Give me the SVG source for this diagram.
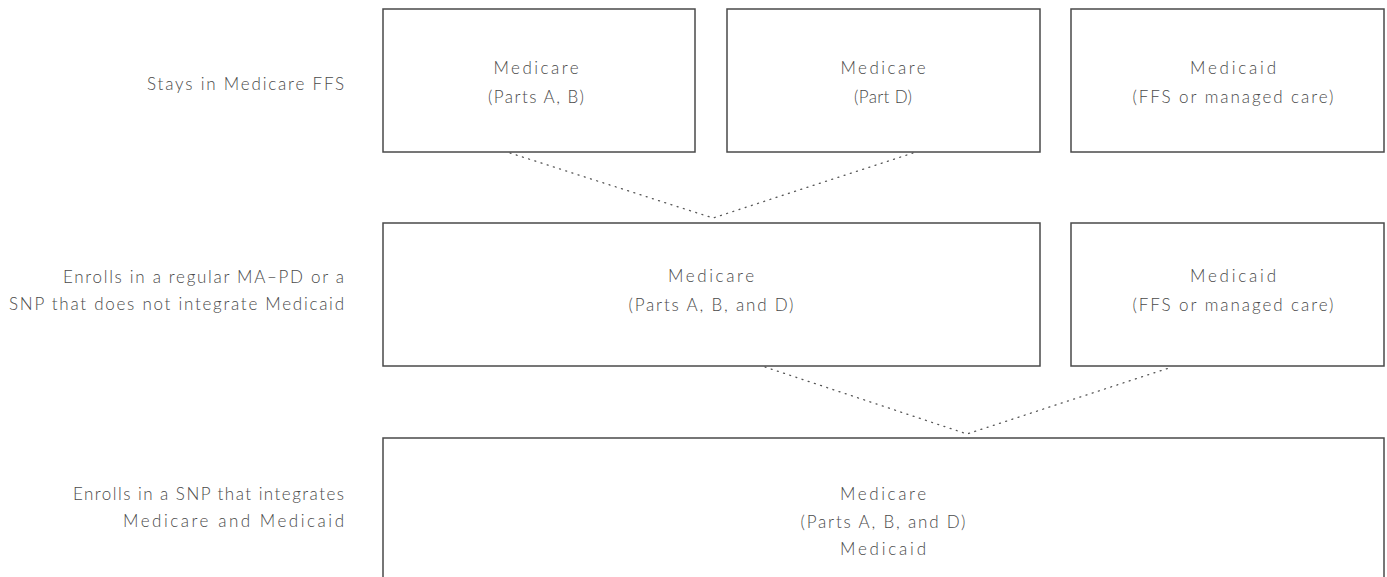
<svg xmlns="http://www.w3.org/2000/svg" width="1387" height="577" viewBox="0 0 1387 577">
<style>
.box{fill:#fff;stroke:#4a4a4a;stroke-width:1.5}
.t{font-family:Lato,"Open Sans","Liberation Sans",sans-serif;font-weight:300;font-size:17px;fill:#4a4a4a}
.m{text-anchor:middle}
.r{text-anchor:end}
.c{fill:none;stroke:#555;stroke-width:1.3;stroke-dasharray:1 5.5;stroke-linecap:round}
</style>
<rect width="1387" height="577" fill="#fff"/>
<g id="labels">
<text class="t r" x="344" y="90" textLength="197" lengthAdjust="spacing">Stays in Medicare FFS</text>
<text class="t r" x="344" y="283" textLength="281" lengthAdjust="spacing">Enrolls in a regular MA–PD or a</text>
<text class="t r" x="344" y="310" textLength="335" lengthAdjust="spacing">SNP that does not integrate Medicaid</text>
<text class="t r" x="344" y="500" textLength="271" lengthAdjust="spacing">Enrolls in a SNP that integrates</text>
<text class="t r" x="344" y="527" textLength="221" lengthAdjust="spacing">Medicare and Medicaid</text>
</g>
<g id="connectors">
<polyline class="c" points="510,153 713,218 913,153"/>
<polyline class="c" points="765,367 967,434 1172,367"/>
</g>
<g id="n1"><rect class="box" x="383" y="9" width="312" height="143"/>
<text class="t m" x="536" y="74" textLength="85" lengthAdjust="spacing">Medicare</text><text class="t m" x="536" y="103" textLength="96" lengthAdjust="spacing">(Parts A, B)</text></g>
<g id="n2"><rect class="box" x="727" y="9" width="313" height="143"/>
<text class="t m" x="883" y="74" textLength="85" lengthAdjust="spacing">Medicare</text><text class="t m" x="883" y="103" textLength="58" lengthAdjust="spacing">(Part D)</text></g>
<g id="n3"><rect class="box" x="1071" y="9" width="313" height="143"/>
<text class="t m" x="1233" y="74" textLength="86" lengthAdjust="spacing">Medicaid</text><text class="t m" x="1233" y="103" textLength="201" lengthAdjust="spacing">(FFS or managed care)</text></g>
<g id="n4"><rect class="box" x="383" y="223" width="657" height="143"/>
<text class="t m" x="711" y="282" textLength="86" lengthAdjust="spacing">Medicare</text><text class="t m" x="711" y="311" textLength="165" lengthAdjust="spacing">(Parts A, B, and D)</text></g>
<g id="n5"><rect class="box" x="1071" y="223" width="313" height="143"/>
<text class="t m" x="1233" y="282" textLength="86" lengthAdjust="spacing">Medicaid</text><text class="t m" x="1233" y="311" textLength="201" lengthAdjust="spacing">(FFS or managed care)</text></g>
<g id="n6"><rect class="box" x="383" y="438" width="1001" height="145"/>
<text class="t m" x="883" y="500" textLength="86" lengthAdjust="spacing">Medicare</text><text class="t m" x="883" y="528" textLength="165" lengthAdjust="spacing">(Parts A, B, and D)</text><text class="t m" x="883" y="555" textLength="86" lengthAdjust="spacing">Medicaid</text></g>
</svg>
